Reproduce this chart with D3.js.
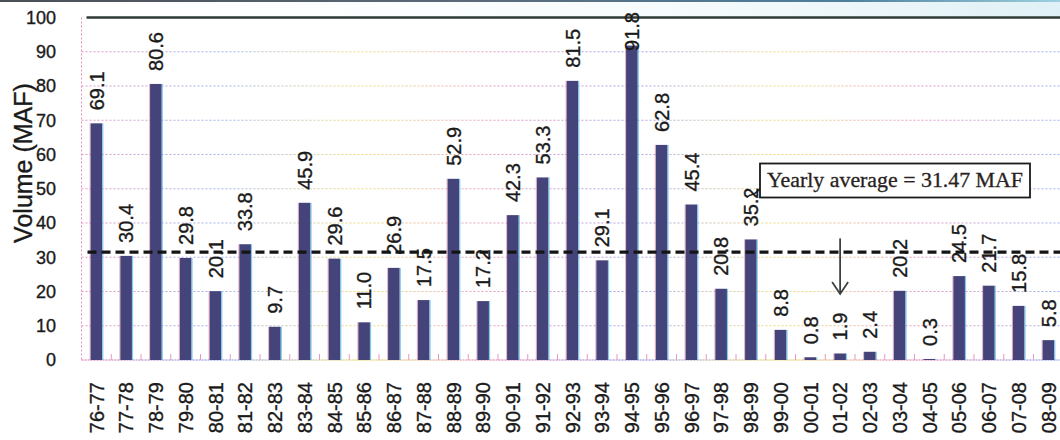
<!DOCTYPE html>
<html>
<head>
<meta charset="utf-8">
<script src="https://cdn.jsdelivr.net/npm/d3@7"></script>
<style>
  html, body { margin: 0; padding: 0; background: #ffffff; }
  svg { display: block; }
  .sans { font-family: "Liberation Sans", Arial, sans-serif; fill: #1a1a1a; stroke: #1a1a1a; stroke-width: 0.35px; }
</style>
</head>
<body>
<svg id="chart" width="1060" height="440"></svg>
<script>
// Water years and annual volume (million acre-feet)
const seasons = ["76-77","77-78","78-79","79-80","80-81","81-82","82-83","83-84","84-85","85-86",
  "86-87","87-88","88-89","89-90","90-91","91-92","92-93","93-94","94-95","95-96","96-97","97-98",
  "98-99","99-00","00-01","01-02","02-03","03-04","04-05","05-06","06-07","07-08","08-09"];
const volumes = [69.1,30.4,80.6,29.8,20.1,33.8,9.7,45.9,29.6,11.0,26.9,17.5,52.9,17.2,42.3,53.3,
  81.5,29.1,91.8,62.8,45.4,20.8,35.2,8.8,0.8,1.9,2.4,20.2,0.3,24.5,21.7,15.8,5.8];
const yTicks = [0,10,20,30,40,50,60,70,80,90,100];
const averageVolume = 31.47;
const averageLabel = "Yearly average = 31.47 MAF";
const yTitle = "Volume (MAF)";
const markedSeason = "01-02";

const svg = d3.select("#chart");
const plotLeft = 81.5, plotBottom = 360, plotTop = 17.5, step = 29.75;

const x = d3.scaleBand()
  .domain(seasons)
  .range([plotLeft, plotLeft + step * seasons.length])
  .paddingInner(0.61)
  .paddingOuter(0.305);
const y = d3.scaleLinear().domain([0, 100]).range([plotBottom, plotTop]);

const defs = svg.append("defs");
const grid = defs.append("linearGradient")
  .attr("id", "gridTint").attr("gradientUnits", "userSpaceOnUse")
  .attr("x1", plotLeft).attr("x2", 1060).attr("y1", 0).attr("y2", 0);
["#e59ac4","#9fb4ee","#eedd7a","#e59ac4","#a9a6ea","#eedd7a","#e59ac4","#9fb4ee"].forEach((c, i, a) =>
  grid.append("stop").attr("offset", i / (a.length - 1)).attr("stop-color", c));
const frame = defs.append("linearGradient")
  .attr("id", "frameTint").attr("gradientUnits", "userSpaceOnUse")
  .attr("x1", 0).attr("x2", 1060).attr("y1", 0).attr("y2", 0);
[["0","#4a4f55"],["0.45","#5b6a7a"],["0.8","#4d7f9c"],["1","#9fd0e0"]].forEach(([o, c]) =>
  frame.append("stop").attr("offset", o).attr("stop-color", c));
const haze = defs.append("linearGradient").attr("id", "haze")
  .attr("x1", 0).attr("x2", 1).attr("y1", 0).attr("y2", 0);
[["0","#ffffff",0],["0.6","#eef7fa",0.5],["1","#dff0f6",1]].forEach(([o, c, op]) =>
  haze.append("stop").attr("offset", o).attr("stop-color", c).attr("stop-opacity", op));

// Faint tinted band and frame edge across the top
svg.append("rect").attr("x", 0).attr("y", 0).attr("width", 1060).attr("height", 16).attr("fill", "url(#haze)");
svg.append("line").attr("x1", 0).attr("x2", 1060).attr("y1", 1).attr("y2", 1)
  .attr("stroke", "url(#frameTint)").attr("stroke-width", 2);

// Dotted gridlines
svg.append("g").selectAll("line")
  .data(yTicks.filter(t => t > 0 && t < 100))
  .join("line")
  .attr("x1", plotLeft).attr("x2", 1060)
  .attr("y1", d => y(d)).attr("y2", d => y(d))
  .attr("stroke", "url(#gridTint)").attr("stroke-width", 1.2)
  .attr("stroke-dasharray", "2,2");

// Solid line at the top of the scale
svg.append("line").attr("x1", plotLeft + 5).attr("x2", 1060)
  .attr("y1", y(100)).attr("y2", y(100))
  .attr("stroke", "#2e3a35").attr("stroke-width", 2.4);

// Axis lines and category ticks
svg.append("line").attr("x1", plotLeft).attr("x2", plotLeft).attr("y1", y(100)).attr("y2", plotBottom)
  .attr("stroke", "#e58fbf").attr("stroke-width", 1).attr("stroke-dasharray", "2,2");
svg.append("line").attr("x1", plotLeft).attr("x2", 1060).attr("y1", plotBottom).attr("y2", plotBottom)
  .attr("stroke", "url(#gridTint)").attr("stroke-width", 1.4).attr("stroke-dasharray", "2,1");
svg.append("g").selectAll("line")
  .data(seasons.slice(1))
  .join("line")
  .attr("x1", d => x(d) - x.step() * x.paddingInner() / 2)
  .attr("x2", d => x(d) - x.step() * x.paddingInner() / 2)
  .attr("y1", plotBottom - 6).attr("y2", plotBottom)
  .attr("stroke", "#e39ac0").attr("stroke-width", 1);

// Y tick labels
svg.append("g").selectAll("text")
  .data(yTicks)
  .join("text")
  .attr("class", "sans")
  .attr("x", 56).attr("y", d => y(d)).attr("dy", "0.36em")
  .attr("text-anchor", "end")
  .attr("font-size", 18)
  .text(d => d);

// Y title
svg.append("text")
  .attr("class", "sans")
  .attr("transform", `translate(32,${(78 + 248) / 2}) rotate(-90)`)
  .attr("text-anchor", "middle")
  .attr("font-size", 25)
  .text(yTitle);

// Bars
const bars = svg.append("g").selectAll("g")
  .data(seasons.map((s, i) => ({ s, v: volumes[i] })))
  .join("g");
bars.append("rect")
  .attr("x", d => x(d.s)).attr("width", x.bandwidth())
  .attr("y", d => y(d.v)).attr("height", d => plotBottom - y(d.v))
  .attr("fill", "#44447a");
bars.append("rect")
  .attr("x", d => x(d.s) + x.bandwidth()).attr("width", 1.2)
  .attr("y", d => y(d.v)).attr("height", d => plotBottom - y(d.v))
  .attr("fill", "#4fb3e8").attr("opacity", 0.7);
bars.append("rect")
  .attr("x", d => x(d.s) - 1).attr("width", 1)
  .attr("y", d => y(d.v)).attr("height", d => plotBottom - y(d.v))
  .attr("fill", "#c2557e").attr("opacity", 0.45);

// Average line
svg.append("line")
  .attr("x1", plotLeft + 6).attr("x2", 1060)
  .attr("y1", y(averageVolume)).attr("y2", y(averageVolume))
  .attr("stroke", "#141414").attr("stroke-width", 3.2)
  .attr("stroke-dasharray", "9,5");

// Value labels, rotated, kept inside the plot at the top
const fmt = d3.format(".1f");
bars.append("text")
  .attr("class", "sans")
  .attr("font-size", 20)
  .attr("dy", "0.36em")
  .text(d => fmt(d.v))
  .each(function (d) {
    const len = this.getComputedTextLength();
    let start = y(d.v) - 13;
    if (start - len < 12) start = 12 + len;
    d3.select(this).attr("transform",
      `translate(${x(d.s) + x.bandwidth() / 2},${start}) rotate(-90)`);
  });

// Category labels
svg.append("g").selectAll("text")
  .data(seasons)
  .join("text")
  .attr("class", "sans")
  .attr("transform", d => `translate(${x(d) + x.bandwidth() / 2},382) rotate(-90)`)
  .attr("text-anchor", "end").attr("dy", "0.36em")
  .attr("font-size", 20)
  .text(d => d);

// Arrow pointing down at the marked season
const ax = x(markedSeason) + x.bandwidth() / 2;
const arrow = svg.append("g").attr("stroke", "#3a3f3f").attr("stroke-width", 1.8).attr("fill", "none");
arrow.append("line").attr("x1", ax).attr("x2", ax).attr("y1", y(35.5)).attr("y2", y(19.3));
arrow.append("path")
  .attr("d", `M${ax - 8},${y(19.3) - 12} L${ax},${y(19.3)} L${ax + 8},${y(19.3) - 12}`);

// Callout box for the yearly average
const box = svg.append("g");
box.append("rect")
  .attr("x", 760).attr("y", 163.5).attr("width", 270).attr("height", 34)
  .attr("fill", "#ffffff").attr("stroke", "#1a1a1a").attr("stroke-width", 1.8);
box.append("path")
  .attr("d", "M760,189 C757,191 756,194 751,195 C749,195 748,197 747,197")
  .attr("fill", "none").attr("stroke", "#1a1a1a").attr("stroke-width", 1.6);
box.append("text")
  .attr("x", 767).attr("y", 187)
  .attr("font-family", "Liberation Serif, Times New Roman, serif")
  .attr("font-size", 20).attr("fill", "#2a1f22")
  .attr("stroke", "#2a1f22").attr("stroke-width", 0.3)
  .attr("textLength", 256).attr("lengthAdjust", "spacingAndGlyphs")
  .text(averageLabel);
</script>
</body>
</html>
